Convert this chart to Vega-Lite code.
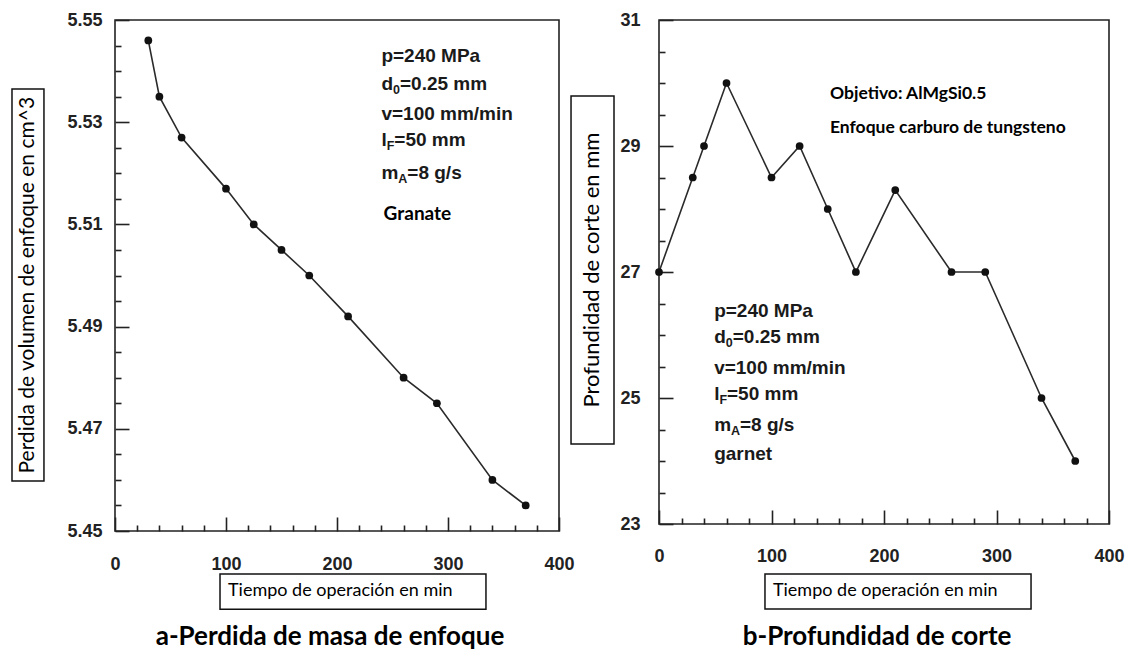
{
  "$schema": "https://vega.github.io/schema/vega-lite/v6.json",
  "background": "white",
  "padding": {"left": 10, "top": 10, "right": 10, "bottom": 5},
  "datasets": {
    "mass": [
      {"time": 30, "loss": 5.546},
      {"time": 40, "loss": 5.535},
      {"time": 60, "loss": 5.527},
      {"time": 100, "loss": 5.517},
      {"time": 125, "loss": 5.510},
      {"time": 150, "loss": 5.505},
      {"time": 175, "loss": 5.500},
      {"time": 210, "loss": 5.492},
      {"time": 260, "loss": 5.480},
      {"time": 290, "loss": 5.475},
      {"time": 340, "loss": 5.460},
      {"time": 370, "loss": 5.455}
    ],
    "depth": [
      {"time": 0, "depth": 27},
      {"time": 30, "depth": 28.5},
      {"time": 40, "depth": 29},
      {"time": 60, "depth": 30},
      {"time": 100, "depth": 28.5},
      {"time": 125, "depth": 29},
      {"time": 150, "depth": 28},
      {"time": 175, "depth": 27},
      {"time": 210, "depth": 28.3},
      {"time": 260, "depth": 27},
      {"time": 290, "depth": 27},
      {"time": 340, "depth": 25},
      {"time": 370, "depth": 24}
    ]
  },
  "config": {
    "view": {"stroke": "#222", "strokeWidth": 1.6},
    "axis": {
      "domain": false, "grid": false,
      "labelFont": "Liberation Sans", "labelFontWeight": "bold", "labelFontSize": 18, "labelColor": "#222",
      "tickColor": "#222", "tickWidth": 1.6
    }
  },
  "bounds": "flush",
  "spacing": 100,
  "hconcat": [
    {
      "width": 444, "height": 511,
      "resolve": {"axis": {"x": "independent", "y": "independent"}},
      "layer": [
        {
          "data": {"name": "mass"},
          "mark": {"type": "line", "color": "#2a2a2a", "strokeWidth": 1.6},
          "encoding": {
            "x": {"field": "time", "type": "quantitative", "scale": {"domain": [0, 400], "nice": false},
                  "axis": {"orient": "bottom", "values": [0, 100, 200, 300, 400], "tickSize": -14, "labelPadding": 38, "labelFlush": false, "title": null}},
            "y": {"field": "loss", "type": "quantitative", "scale": {"domain": [5.45, 5.55], "nice": false, "zero": false},
                  "axis": {"orient": "left", "values": [5.45, 5.47, 5.49, 5.51, 5.53, 5.55], "format": ".2f", "tickSize": -14, "labelPadding": 27, "labelFlush": false, "title": null}}
          }
        },
        {
          "data": {"name": "mass"},
          "mark": {"type": "point", "filled": true, "color": "#111", "size": 60, "opacity": 1},
          "encoding": {
            "x": {"field": "time", "type": "quantitative",
                  "axis": {"orient": "bottom", "values": [20, 40, 60, 80, 120, 140, 160, 180, 220, 240, 260, 280, 320, 340, 360, 380], "tickSize": -6, "labels": false, "title": null}},
            "y": {"field": "loss", "type": "quantitative",
                  "axis": {"orient": "left", "values": [5.455, 5.46, 5.465, 5.475, 5.48, 5.485, 5.495, 5.5, 5.505, 5.515, 5.52, 5.525, 5.535, 5.54, 5.545], "tickSize": -6, "labels": false, "title": null}}
          }
        },
        {
          "data": {"values": [{}]},
          "mark": {"type": "text", "text": "p=240 MPa", "align": "left", "baseline": "middle", "font": "Liberation Sans", "fontWeight": "bold", "fontSize": 19, "color": "#1a1a1a"},
          "encoding": {"x": {"datum": 240, "type": "quantitative", "axis": null}, "y": {"datum": 5.543, "type": "quantitative", "axis": null}}
        },
        {
          "data": {"values": [{}]},
          "mark": {"type": "text", "text": "d", "align": "left", "baseline": "middle", "font": "Liberation Sans", "fontWeight": "bold", "fontSize": 19, "color": "#1a1a1a"},
          "encoding": {"x": {"datum": 240, "type": "quantitative", "axis": null}, "y": {"datum": 5.5375, "type": "quantitative", "axis": null}}
        },
        {
          "data": {"values": [{}]},
          "mark": {"type": "text", "text": "0", "align": "left", "baseline": "middle", "dx": 11.6, "dy": 6, "font": "Liberation Sans", "fontWeight": "bold", "fontSize": 12.5, "color": "#1a1a1a"},
          "encoding": {"x": {"datum": 240, "type": "quantitative", "axis": null}, "y": {"datum": 5.5375, "type": "quantitative", "axis": null}}
        },
        {
          "data": {"values": [{}]},
          "mark": {"type": "text", "text": "=0.25 mm", "align": "left", "baseline": "middle", "dx": 18.6, "font": "Liberation Sans", "fontWeight": "bold", "fontSize": 19, "color": "#1a1a1a"},
          "encoding": {"x": {"datum": 240, "type": "quantitative", "axis": null}, "y": {"datum": 5.5375, "type": "quantitative", "axis": null}}
        },
        {
          "data": {"values": [{}]},
          "mark": {"type": "text", "text": "v=100 mm/min", "align": "left", "baseline": "middle", "font": "Liberation Sans", "fontWeight": "bold", "fontSize": 19, "color": "#1a1a1a"},
          "encoding": {"x": {"datum": 240, "type": "quantitative", "axis": null}, "y": {"datum": 5.5316, "type": "quantitative", "axis": null}}
        },
        {
          "data": {"values": [{}]},
          "mark": {"type": "text", "text": "l", "align": "left", "baseline": "middle", "font": "Liberation Sans", "fontWeight": "bold", "fontSize": 19, "color": "#1a1a1a"},
          "encoding": {"x": {"datum": 240, "type": "quantitative", "axis": null}, "y": {"datum": 5.5265, "type": "quantitative", "axis": null}}
        },
        {
          "data": {"values": [{}]},
          "mark": {"type": "text", "text": "F", "align": "left", "baseline": "middle", "dx": 5.3, "dy": 6, "font": "Liberation Sans", "fontWeight": "bold", "fontSize": 12.5, "color": "#1a1a1a"},
          "encoding": {"x": {"datum": 240, "type": "quantitative", "axis": null}, "y": {"datum": 5.5265, "type": "quantitative", "axis": null}}
        },
        {
          "data": {"values": [{}]},
          "mark": {"type": "text", "text": "=50 mm", "align": "left", "baseline": "middle", "dx": 12.9, "font": "Liberation Sans", "fontWeight": "bold", "fontSize": 19, "color": "#1a1a1a"},
          "encoding": {"x": {"datum": 240, "type": "quantitative", "axis": null}, "y": {"datum": 5.5265, "type": "quantitative", "axis": null}}
        },
        {
          "data": {"values": [{}]},
          "mark": {"type": "text", "text": "m", "align": "left", "baseline": "middle", "font": "Liberation Sans", "fontWeight": "bold", "fontSize": 19, "color": "#1a1a1a"},
          "encoding": {"x": {"datum": 240, "type": "quantitative", "axis": null}, "y": {"datum": 5.520, "type": "quantitative", "axis": null}}
        },
        {
          "data": {"values": [{}]},
          "mark": {"type": "text", "text": "A", "align": "left", "baseline": "middle", "dx": 16.9, "dy": 6, "font": "Liberation Sans", "fontWeight": "bold", "fontSize": 12.5, "color": "#1a1a1a"},
          "encoding": {"x": {"datum": 240, "type": "quantitative", "axis": null}, "y": {"datum": 5.520, "type": "quantitative", "axis": null}}
        },
        {
          "data": {"values": [{}]},
          "mark": {"type": "text", "text": "=8 g/s", "align": "left", "baseline": "middle", "dx": 25.9, "font": "Liberation Sans", "fontWeight": "bold", "fontSize": 19, "color": "#1a1a1a"},
          "encoding": {"x": {"datum": 240, "type": "quantitative", "axis": null}, "y": {"datum": 5.520, "type": "quantitative", "axis": null}}
        },
        {
          "data": {"values": [{}]},
          "mark": {"type": "text", "text": "Granate", "align": "left", "baseline": "middle", "font": "Lato", "fontWeight": "bold", "fontSize": 19, "color": "#000"},
          "encoding": {"x": {"datum": 242, "type": "quantitative", "axis": null}, "y": {"datum": 5.512, "type": "quantitative", "axis": null}}
        },
        {
          "data": {"values": [{}]},
          "mark": {"type": "rect", "fill": "white", "stroke": "#111", "strokeWidth": 1.5},
          "encoding": {"x": {"datum": -92.8, "type": "quantitative", "axis": null}, "x2": {"datum": -64}, "y": {"datum": 5.5365, "type": "quantitative", "axis": null}, "y2": {"datum": 5.4598}}
        },
        {
          "data": {"values": [{}]},
          "mark": {"type": "text", "text": "Perdida de volumen de enfoque en cm^3", "angle": 270, "align": "center", "baseline": "middle", "font": "Lato", "fontSize": 21, "color": "#000"},
          "encoding": {"x": {"datum": -78.4, "type": "quantitative", "axis": null}, "y": {"datum": 5.4981, "type": "quantitative", "axis": null}}
        },
        {
          "data": {"values": [{}]},
          "mark": {"type": "rect", "fill": "white", "stroke": "#111", "strokeWidth": 1.5},
          "encoding": {"x": {"datum": 94.6, "type": "quantitative", "axis": null}, "x2": {"datum": 334.2}, "y": {"datum": 5.4416, "type": "quantitative", "axis": null}, "y2": {"datum": 5.4347}}
        },
        {
          "data": {"values": [{}]},
          "mark": {"type": "text", "text": "Tiempo de operación en min", "align": "left", "baseline": "middle", "font": "Lato", "fontSize": 18, "color": "#000"},
          "encoding": {"x": {"datum": 101.8, "type": "quantitative", "axis": null}, "y": {"datum": 5.4383, "type": "quantitative", "axis": null}}
        },
        {
          "data": {"values": [{}]},
          "mark": {"type": "text", "text": "a-Perdida de masa de enfoque", "align": "center", "baseline": "middle", "font": "Lato", "fontWeight": "bold", "fontSize": 26, "color": "#000"},
          "encoding": {"x": {"datum": 193.7, "type": "quantitative", "axis": null}, "y": {"datum": 5.4293, "type": "quantitative", "axis": null}}
        }
      ]
    },
    {
      "width": 450, "height": 504,
      "resolve": {"axis": {"x": "independent", "y": "independent"}},
      "layer": [
        {
          "data": {"name": "depth"},
          "mark": {"type": "line", "color": "#2a2a2a", "strokeWidth": 1.6},
          "encoding": {
            "x": {"field": "time", "type": "quantitative", "scale": {"domain": [0, 400], "nice": false},
                  "axis": {"orient": "bottom", "values": [0, 100, 200, 300, 400], "tickSize": -14, "labelPadding": 37, "labelFlush": false, "title": null}},
            "y": {"field": "depth", "type": "quantitative", "scale": {"domain": [23, 31], "nice": false, "zero": false},
                  "axis": {"orient": "left", "values": [23, 25, 27, 29, 31], "tickSize": -14, "labelPadding": 33, "labelFlush": false, "title": null}}
          }
        },
        {
          "data": {"name": "depth"},
          "mark": {"type": "point", "filled": true, "color": "#111", "size": 60, "opacity": 1},
          "encoding": {
            "x": {"field": "time", "type": "quantitative",
                  "axis": {"orient": "bottom", "values": [20, 40, 60, 80, 120, 140, 160, 180, 220, 240, 260, 280, 320, 340, 360, 380], "tickSize": -6, "labels": false, "title": null}},
            "y": {"field": "depth", "type": "quantitative",
                  "axis": {"orient": "left", "values": [23.5, 24, 24.5, 25.5, 26, 26.5, 27.5, 28, 28.5, 29.5, 30, 30.5], "tickSize": -6, "labels": false, "title": null}}
          }
        },
        {
          "data": {"values": [{}]},
          "mark": {"type": "text", "text": "Objetivo: AlMgSi0.5", "align": "left", "baseline": "middle", "font": "Lato", "fontWeight": "bold", "fontSize": 17.5, "color": "#000"},
          "encoding": {"x": {"datum": 152, "type": "quantitative", "axis": null}, "y": {"datum": 29.825, "type": "quantitative", "axis": null}}
        },
        {
          "data": {"values": [{}]},
          "mark": {"type": "text", "text": "Enfoque carburo de tungsteno", "align": "left", "baseline": "middle", "font": "Lato", "fontWeight": "bold", "fontSize": 17.5, "color": "#000"},
          "encoding": {"x": {"datum": 152, "type": "quantitative", "axis": null}, "y": {"datum": 29.286, "type": "quantitative", "axis": null}}
        },
        {
          "data": {"values": [{}]},
          "mark": {"type": "text", "text": "p=240 MPa", "align": "left", "baseline": "middle", "font": "Liberation Sans", "fontWeight": "bold", "fontSize": 19, "color": "#1a1a1a"},
          "encoding": {"x": {"datum": 49, "type": "quantitative", "axis": null}, "y": {"datum": 26.381, "type": "quantitative", "axis": null}}
        },
        {
          "data": {"values": [{}]},
          "mark": {"type": "text", "text": "d", "align": "left", "baseline": "middle", "font": "Liberation Sans", "fontWeight": "bold", "fontSize": 19, "color": "#1a1a1a"},
          "encoding": {"x": {"datum": 49, "type": "quantitative", "axis": null}, "y": {"datum": 25.968, "type": "quantitative", "axis": null}}
        },
        {
          "data": {"values": [{}]},
          "mark": {"type": "text", "text": "0", "align": "left", "baseline": "middle", "dx": 11.6, "dy": 6, "font": "Liberation Sans", "fontWeight": "bold", "fontSize": 12.5, "color": "#1a1a1a"},
          "encoding": {"x": {"datum": 49, "type": "quantitative", "axis": null}, "y": {"datum": 25.968, "type": "quantitative", "axis": null}}
        },
        {
          "data": {"values": [{}]},
          "mark": {"type": "text", "text": "=0.25 mm", "align": "left", "baseline": "middle", "dx": 18.6, "font": "Liberation Sans", "fontWeight": "bold", "fontSize": 19, "color": "#1a1a1a"},
          "encoding": {"x": {"datum": 49, "type": "quantitative", "axis": null}, "y": {"datum": 25.968, "type": "quantitative", "axis": null}}
        },
        {
          "data": {"values": [{}]},
          "mark": {"type": "text", "text": "v=100 mm/min", "align": "left", "baseline": "middle", "font": "Liberation Sans", "fontWeight": "bold", "fontSize": 19, "color": "#1a1a1a"},
          "encoding": {"x": {"datum": 49, "type": "quantitative", "axis": null}, "y": {"datum": 25.476, "type": "quantitative", "axis": null}}
        },
        {
          "data": {"values": [{}]},
          "mark": {"type": "text", "text": "l", "align": "left", "baseline": "middle", "font": "Liberation Sans", "fontWeight": "bold", "fontSize": 19, "color": "#1a1a1a"},
          "encoding": {"x": {"datum": 49, "type": "quantitative", "axis": null}, "y": {"datum": 25.063, "type": "quantitative", "axis": null}}
        },
        {
          "data": {"values": [{}]},
          "mark": {"type": "text", "text": "F", "align": "left", "baseline": "middle", "dx": 5.3, "dy": 6, "font": "Liberation Sans", "fontWeight": "bold", "fontSize": 12.5, "color": "#1a1a1a"},
          "encoding": {"x": {"datum": 49, "type": "quantitative", "axis": null}, "y": {"datum": 25.063, "type": "quantitative", "axis": null}}
        },
        {
          "data": {"values": [{}]},
          "mark": {"type": "text", "text": "=50 mm", "align": "left", "baseline": "middle", "dx": 12.9, "font": "Liberation Sans", "fontWeight": "bold", "fontSize": 19, "color": "#1a1a1a"},
          "encoding": {"x": {"datum": 49, "type": "quantitative", "axis": null}, "y": {"datum": 25.063, "type": "quantitative", "axis": null}}
        },
        {
          "data": {"values": [{}]},
          "mark": {"type": "text", "text": "m", "align": "left", "baseline": "middle", "font": "Liberation Sans", "fontWeight": "bold", "fontSize": 19, "color": "#1a1a1a"},
          "encoding": {"x": {"datum": 49, "type": "quantitative", "axis": null}, "y": {"datum": 24.571, "type": "quantitative", "axis": null}}
        },
        {
          "data": {"values": [{}]},
          "mark": {"type": "text", "text": "A", "align": "left", "baseline": "middle", "dx": 16.9, "dy": 6, "font": "Liberation Sans", "fontWeight": "bold", "fontSize": 12.5, "color": "#1a1a1a"},
          "encoding": {"x": {"datum": 49, "type": "quantitative", "axis": null}, "y": {"datum": 24.571, "type": "quantitative", "axis": null}}
        },
        {
          "data": {"values": [{}]},
          "mark": {"type": "text", "text": "=8 g/s", "align": "left", "baseline": "middle", "dx": 25.9, "font": "Liberation Sans", "fontWeight": "bold", "fontSize": 19, "color": "#1a1a1a"},
          "encoding": {"x": {"datum": 49, "type": "quantitative", "axis": null}, "y": {"datum": 24.571, "type": "quantitative", "axis": null}}
        },
        {
          "data": {"values": [{}]},
          "mark": {"type": "text", "text": "garnet", "align": "left", "baseline": "middle", "font": "Liberation Sans", "fontWeight": "bold", "fontSize": 19, "color": "#1a1a1a"},
          "encoding": {"x": {"datum": 49, "type": "quantitative", "axis": null}, "y": {"datum": 24.111, "type": "quantitative", "axis": null}}
        },
        {
          "data": {"values": [{}]},
          "mark": {"type": "rect", "fill": "white", "stroke": "#111", "strokeWidth": 1.5},
          "encoding": {"x": {"datum": -78.2, "type": "quantitative", "axis": null}, "x2": {"datum": -40}, "y": {"datum": 29.794, "type": "quantitative", "axis": null}, "y2": {"datum": 24.27}}
        },
        {
          "data": {"values": [{}]},
          "mark": {"type": "text", "text": "Profundidad de corte en mm", "angle": 270, "align": "center", "baseline": "middle", "font": "Lato", "fontSize": 22, "color": "#000"},
          "encoding": {"x": {"datum": -59.6, "type": "quantitative", "axis": null}, "y": {"datum": 27.03, "type": "quantitative", "axis": null}}
        },
        {
          "data": {"values": [{}]},
          "mark": {"type": "rect", "fill": "white", "stroke": "#111", "strokeWidth": 1.5},
          "encoding": {"x": {"datum": 94.2, "type": "quantitative", "axis": null}, "x2": {"datum": 330.7}, "y": {"datum": 22.206, "type": "quantitative", "axis": null}, "y2": {"datum": 21.651}}
        },
        {
          "data": {"values": [{}]},
          "mark": {"type": "text", "text": "Tiempo de operación en min", "align": "left", "baseline": "middle", "font": "Lato", "fontSize": 18, "color": "#000"},
          "encoding": {"x": {"datum": 101.3, "type": "quantitative", "axis": null}, "y": {"datum": 21.937, "type": "quantitative", "axis": null}}
        },
        {
          "data": {"values": [{}]},
          "mark": {"type": "text", "text": "b-Profundidad de corte", "align": "center", "baseline": "middle", "font": "Lato", "fontWeight": "bold", "fontSize": 26, "color": "#000"},
          "encoding": {"x": {"datum": 193.8, "type": "quantitative", "axis": null}, "y": {"datum": 21.206, "type": "quantitative", "axis": null}}
        }
      ]
    }
  ]
}
